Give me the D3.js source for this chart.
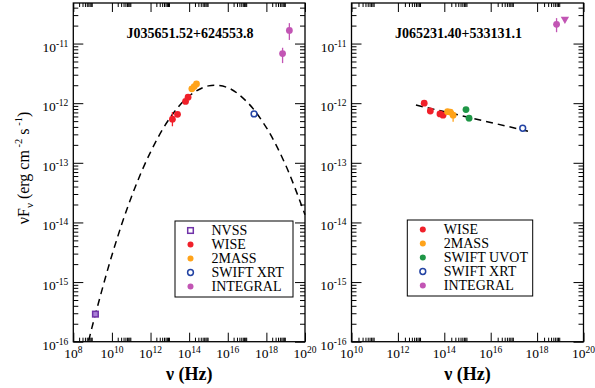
<!DOCTYPE html>
<html><head><meta charset="utf-8">
<script src="https://cdn.jsdelivr.net/npm/d3@7"></script>
<style>
body{margin:0;background:#fff}
svg{display:block}
text{font-family:"Liberation Serif","Times New Roman",serif;fill:#000}
</style>
</head><body>
<svg id="c" width="595" height="388"></svg>
<script>
// ---------- data (nu [Hz], nuFnu, optional err low, err high) ----------
const leftTitle = "J035651.52+624553.8";
const rightTitle = "J065231.40+533131.1";

const leftNVSS = [[1.4e9, 2.9e-16]];
const leftWISE = [[1.36e13, 5.4e-13, 4.1e-13, 7.1e-13], [2.5e13, 6.5e-13], [6.5e13, 1.07e-12], [8.8e13, 1.26e-12]];
const left2MASS = [[1.38e14, 1.74e-12], [1.82e14, 1.90e-12], [2.4e14, 2.10e-12]];
const leftXRT = [[2.3e17, 6.6e-13, 6.0e-13, 7.2e-13]];
const leftINTEGRAL = [[6.9e18, 6.8e-12, 4.7e-12, 8.5e-12], [1.55e19, 1.66e-11, 1.15e-11, 2.2e-11]];
// dashed model curve (log nu, log nuFnu)
const leftModelLogNu = [8.8, 9, 10, 11, 12, 13, 14, 15, 16, 17, 18, 19, 20];
const leftModelLogF = [-15.98, -15.72, -14.55, -13.58, -12.82, -12.25, -11.88, -11.71, -11.74, -11.98, -12.41, -13.04, -13.87];

const rightWISE = [[1.36e13, 1.0e-12], [2.5e13, 7.4e-13], [6.5e13, 6.6e-13], [8.8e13, 6.3e-13]];
const right2MASS = [[1.38e14, 7.2e-13], [1.82e14, 7.1e-13], [2.4e14, 6.3e-13, 4.9e-13, 7.4e-13]];
const rightUVOT = [[8.6e14, 7.8e-13], [1.17e15, 5.6e-13, 5.0e-13, 6.2e-13]];
const rightXRT = [[2.4e17, 3.8e-13, 3.5e-13, 4.1e-13]];
const rightINTEGRAL = [[6.9e18, 2.1e-11, 1.55e-11, 2.67e-11]];
const rightINTEGRALul = [[1.58e19, 2.57e-11]];
const rightModelNu = [6.0e12, 5.5e17];
const rightModelF = [9.3e-13, 3.3e-13];

const leftXTicks = [1e8, 1e10, 1e12, 1e14, 1e16, 1e18, 1e20];
const rightXTicks = [1e10, 1e12, 1e14, 1e16, 1e18, 1e20];
const yTicks = [1e-16, 1e-15, 1e-14, 1e-13, 1e-12, 1e-11];

const leftLegend = ["NVSS", "WISE", "2MASS", "SWIFT XRT", "INTEGRAL"];
const rightLegend = ["WISE", "2MASS", "SWIFT UVOT", "SWIFT XRT", "INTEGRAL"];

const COL = {
  NVSS: "#7033a8", WISE: "#f0202a", "2MASS": "#ffa31a", "SWIFT UVOT": "#1e9646",
  "SWIFT XRT": "#2343a3", INTEGRAL: "#c255b4"
};

// ---------- layout ----------
const svg = d3.select("#c");
const yTop = Math.pow(10, -10.32);
const Y0 = 341.7, Y1 = 3;

function sup(sel, base, exp) {
  sel.text(null);
  sel.append("tspan").text(base);
  sel.append("tspan").attr("dy", -5).style("font-size", "9.5px").text(exp);
}

function panel(x0, x1, xDomain, xTicks, legendX, legendY, legendW, legendH, legendItems, title, titleX) {
  const x = d3.scaleLog().domain(xDomain).range([x0, x1]);
  const y = d3.scaleLog().domain([1e-16, yTop]).range([Y0, Y1]);
  const g = svg.append("g");

  const xMinor = [];
  xTicks.forEach(t => { if (t < xDomain[1]) for (let k = 2; k <= 9; k++) xMinor.push(k * t); });
  const yMinor = [];
  for (let e = -16; e <= -11; e++) for (let k = 2; k <= 9; k++) { const v = k * Math.pow(10, e); if (v < yTop) yMinor.push(v); }

  const mk = (axis, vals, size) => axis.tickValues(vals).tickSizeInner(-size).tickSizeOuter(0).tickFormat("");
  const add = (axis, tr) => { const a = g.append("g").attr("transform", tr).call(axis); a.select(".domain").remove(); a.selectAll("text").remove(); a.selectAll("line").attr("stroke", "#000").attr("stroke-width", 1); return a; };

  add(mk(d3.axisBottom(x), xMinor, 4), `translate(0,${Y0})`);
  add(mk(d3.axisTop(x), xMinor, 4), `translate(0,${Y1})`);
  add(mk(d3.axisLeft(y), yMinor, 5), `translate(${x0},0)`);
  add(mk(d3.axisRight(y), yMinor, 5), `translate(${x1},0)`);
  add(mk(d3.axisBottom(x), xTicks, 9), `translate(0,${Y0})`);
  add(mk(d3.axisTop(x), xTicks, 9), `translate(0,${Y1})`);
  add(mk(d3.axisLeft(y), yTicks, 10), `translate(${x0},0)`);
  add(mk(d3.axisRight(y), yTicks, 10), `translate(${x1},0)`);

  // tick labels
  g.append("g").selectAll("text").data(xTicks).join("text")
    .attr("x", d => x(d)).attr("y", 358).attr("text-anchor", "middle").style("font-size", "13.5px")
    .each(function (d) { sup(d3.select(this), "10", String(Math.round(Math.log10(d)))); });
  g.append("g").selectAll("text").data(yTicks).join("text")
    .attr("x", x0 - 5).attr("y", d => y(d) + 8).attr("text-anchor", "end").style("font-size", "13.5px")
    .each(function (d) { sup(d3.select(this), "10", String(Math.round(Math.log10(d)))); });

  // frame
  g.append("rect").attr("x", x0).attr("y", Y1).attr("width", x1 - x0).attr("height", Y0 - Y1)
    .attr("fill", "none").attr("stroke", "#000").attr("stroke-width", 1.3);

  // title
  g.append("text").attr("x", titleX).attr("y", 37.5).attr("text-anchor", "middle")
    .style("font-size", "14px").style("font-weight", "bold").text(title);

  // x label
  g.append("text").attr("x", (x0 + x1) / 2).attr("y", 380).attr("text-anchor", "middle")
    .style("font-size", "18px").style("font-weight", "bold").text("ν (Hz)");

  const lg = g.append("g").attr("class", "legend");
  lg.append("rect").attr("x", legendX).attr("y", legendY).attr("width", legendW).attr("height", legendH)
    .attr("fill", "#fff").attr("stroke", "#000").attr("stroke-width", 1);
  legendItems.forEach((name, i) => {
    const cy = legendY + 9.5 + i * 14, cx = legendX + 15.5;
    drawMarker(lg, name, cx, cy, true);
    lg.append("text").attr("x", legendX + 36.5).attr("y", cy + 4.8).style("font-size", "14px").text(name);
  });

  return { g, x, y, lg };
}

function drawMarker(sel, name, cx, cy, legend) {
  const c = COL[name];
  if (name === "NVSS") {
    sel.append("rect").attr("x", cx - 2.8).attr("y", cy - 2.8).attr("width", 5.6).attr("height", 5.6)
      .attr("fill", legend ? "#fff" : "#a97fd6").attr("stroke", c).attr("stroke-width", 1.5);
  } else if (name === "SWIFT XRT") {
    sel.append("circle").attr("cx", cx).attr("cy", cy).attr("r", 2.9)
      .attr("fill", "#fff").attr("stroke", c).attr("stroke-width", 1.5);
  } else {
    sel.append("circle").attr("cx", cx).attr("cy", cy).attr("r", legend ? 3 : 3.4).attr("fill", c);
  }
}

function points(p, name, data) {
  const c = COL[name];
  data.forEach(d => {
    if (d.length > 2) {
      p.g.append("line").attr("x1", p.x(d[0])).attr("x2", p.x(d[0])).attr("y1", p.y(d[2])).attr("y2", p.y(d[3]))
        .attr("stroke", c).attr("stroke-width", 1.3);
    }
  });
  data.forEach(d => drawMarker(p.g, name, p.x(d[0]), p.y(d[1]), false));
}

// ---------- left panel ----------
const L = panel(73.3, 305, [1e8, 1e20], leftXTicks, 175, 221, 118, 76, leftLegend, leftTitle, 190);
const leftModel = leftModelLogNu.map((v, i) => [Math.pow(10, v), Math.pow(10, leftModelLogF[i])]);
L.g.append("path").datum(leftModel)
  .attr("d", d3.line().x(d => L.x(d[0])).y(d => L.y(d[1])).curve(d3.curveCatmullRom))
  .attr("fill", "none").attr("stroke", "#000").attr("stroke-width", 1.5).attr("stroke-dasharray", "7,5");
L.lg.raise();
points(L, "NVSS", leftNVSS);
points(L, "WISE", leftWISE);
points(L, "2MASS", left2MASS);
points(L, "SWIFT XRT", leftXRT);
points(L, "INTEGRAL", leftINTEGRAL);

// ---------- right panel ----------
const R = panel(351.5, 583.5, [1e10, 1e20], rightXTicks, 407.3, 220, 125.4, 76, rightLegend, rightTitle, 458.5);
R.g.append("path").datum(rightModelNu.map((v, i) => [v, rightModelF[i]]))
  .attr("d", d3.line().x(d => R.x(d[0])).y(d => R.y(d[1])))
  .attr("fill", "none").attr("stroke", "#000").attr("stroke-width", 1.5).attr("stroke-dasharray", "7,5");
points(R, "WISE", rightWISE);
points(R, "SWIFT UVOT", rightUVOT);
points(R, "2MASS", right2MASS);
points(R, "SWIFT XRT", rightXRT);
points(R, "INTEGRAL", rightINTEGRAL);
rightINTEGRALul.forEach(d => {
  const cx = R.x(d[0]), cy = R.y(d[1]);
  R.g.append("path").attr("d", d3.symbol().type(d3.symbolTriangle).size(30)())
    .attr("transform", `translate(${cx},${cy}) rotate(180)`).attr("fill", COL.INTEGRAL);
});

// ---------- y label ----------
const yl = svg.append("text").attr("transform", "translate(29,168) rotate(-90)")
  .attr("text-anchor", "middle").style("font-size", "16px");
yl.append("tspan").text("νF");
yl.append("tspan").attr("dy", 4).style("font-size", "11px").text("ν");
yl.append("tspan").attr("dy", -4).text(" (erg cm");
yl.append("tspan").attr("dy", -7).style("font-size", "10.5px").text(" -2");
yl.append("tspan").attr("dy", 7).text(" s");
yl.append("tspan").attr("dy", -7).style("font-size", "10.5px").text(" -1");
yl.append("tspan").attr("dy", 7).text(")");
</script>
</body></html>
